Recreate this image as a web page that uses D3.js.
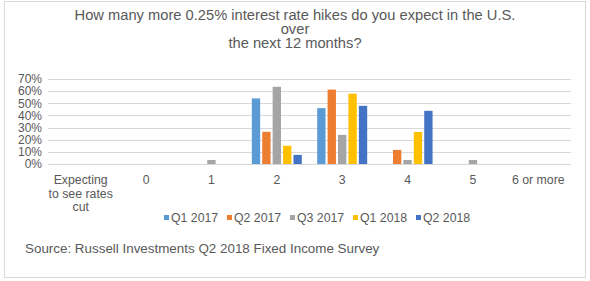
<!DOCTYPE html>
<html><head><meta charset="utf-8">
<script src="https://cdn.jsdelivr.net/npm/d3@7"></script>
<style>body{margin:0;background:#fff}svg{display:block;font-family:"Liberation Sans",Arial,sans-serif}</style>
</head><body><svg id="c" width="590" height="281"></svg>
<script>
const categories = ["Expecting to see rates cut","0","1","2","3","4","5","6 or more"];
const seriesNames = ["Q1 2017","Q2 2017","Q3 2017","Q1 2018","Q2 2018"];
const colors = ["#5b9bd5","#ed7d31","#a5a5a5","#ffc000","#4472c4"];
const q1_2017 = [0,0,0,54,46,0,0,0];
const q2_2017 = [0,0,0,26.5,61.3,11.6,0,0];
const q3_2017 = [0,0,3.3,63.6,24,3.3,3.3,0];
const q1_2018 = [0,0,0,15,57.9,26.4,0,0];
const q2_2018 = [0,0,0,7.5,47.9,43.8,0,0];
const yTicks = [0,0.1,0.2,0.3,0.4,0.5,0.6,0.7];
const titleLines = ["How many more 0.25% interest rate hikes do you expect in the U.S.","over","the next 12 months?"];
const sourceText = "Source: Russell Investments Q2 2018 Fixed Income Survey";

const series = [q1_2017,q2_2017,q3_2017,q1_2018,q2_2018];
const svg = d3.select("#c");
const txt = "#595959";

svg.append("rect").attr("x",4.5).attr("y",1.5).attr("width",581).attr("height",276)
  .attr("fill","#fff").attr("stroke","#d9d9d9");

svg.append("text").attr("text-anchor","middle").attr("fill",txt).attr("font-size",14.7)
  .selectAll("tspan").data(titleLines).join("tspan")
  .attr("x",295).attr("y",(d,i)=>20+i*14.2).text(d=>d);

const x = d3.scaleBand().domain(categories).range([48,571]);
const y = d3.scaleLinear().domain([0,0.7]).range([164,79]);
const inner = d3.scaleBand().domain(seriesNames).range([0,50]).paddingInner(0.2).paddingOuter(0);

svg.append("g").selectAll("line").data(yTicks).join("line")
  .attr("x1",48).attr("x2",571).attr("y1",d=>Math.round(y(d))+0.5).attr("y2",d=>Math.round(y(d))+0.5)
  .attr("stroke","#d9d9d9").attr("stroke-width",1);

const yAxis = svg.append("g").attr("transform","translate(48,0)")
  .call(d3.axisLeft(y).tickValues(yTicks).tickFormat(d3.format(".0%")).tickSize(0).tickPadding(6));
yAxis.select(".domain").remove();
yAxis.selectAll("text").attr("fill",txt).attr("font-size",12).attr("font-family","Liberation Sans, Arial");

const groups = svg.append("g").selectAll("g").data(series).join("g").attr("fill",(d,i)=>colors[i]);
groups.each(function(vals,si){
  d3.select(this).selectAll("rect").data(vals.map((v,ci)=>({v,c:categories[ci]})).filter(d=>d.v>0)).join("rect")
    .attr("x",d=>x(d.c)+x.bandwidth()/2-25+inner(seriesNames[si]))
    .attr("width",inner.bandwidth())
    .attr("y",d=>y(d.v/100)).attr("height",d=>y(0)-y(d.v/100));
});

const xl = svg.append("g").attr("fill",txt).attr("font-size",12.3).attr("text-anchor","middle");
const xLines = c => c==="Expecting to see rates cut" ? ["Expecting","to see rates","cut"] : [c];
categories.forEach(c=>{
  const t = xl.append("text");
  t.selectAll("tspan").data(xLines(c)).join("tspan")
    .attr("x",x(c)+x.bandwidth()/2).attr("y",(d,i)=>184+i*13.5).text(d=>d);
});

const lg = svg.append("g").attr("font-size",12.3).attr("fill",txt);
seriesNames.forEach((s,i)=>{
  const lx = 164+i*63;
  lg.append("rect").attr("x",lx).attr("y",215).attr("width",5).attr("height",5).attr("fill",colors[i]);
  lg.append("text").attr("x",lx+7).attr("y",222).text(s);
});

svg.append("text").attr("x",25).attr("y",253).attr("fill",txt).attr("font-size",13.4).text(sourceText);
</script></body></html>
